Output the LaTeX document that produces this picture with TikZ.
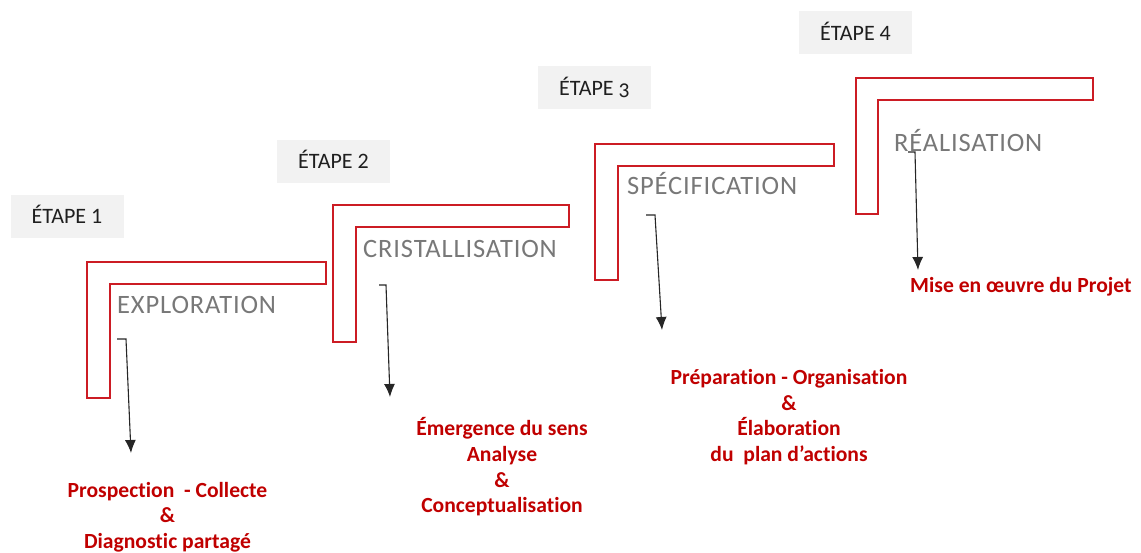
\documentclass[tikz,border=0pt]{standalone}
\usepackage{fontspec}
\setmainfont{Carlito}[Ligatures=CommonOff]
\newfontfamily\phasefont{Carlito}[LetterSpace=3.2,Ligatures=CommonOff]
\usetikzlibrary{arrows.meta}
\definecolor{stepred}{RGB}{204,28,36}
\definecolor{txtred}{RGB}{192,0,0}
\definecolor{lblgray}{RGB}{120,120,120}
\definecolor{boxgray}{RGB}{242,242,242}
\begin{document}
\begin{tikzpicture}[x=1pt,y=-1pt,
  etape/.style={fill=boxgray, minimum width=113pt, minimum height=43pt, inner sep=0pt,
    text height=15pt, text depth=0pt, font=\fontsize{22}{26}\selectfont, text=black!88},
  lshape/.style={draw=stepred, line width=1.4pt, line join=miter},
  phase/.style={font=\phasefont\fontsize{26.5}{30}\selectfont, text=lblgray, anchor=base west, inner sep=0pt},
  outcome/.style={font=\bfseries\fontsize{21.6}{25.7}\selectfont, text=txtred, align=center, inner sep=0pt},
  conn/.style={draw=black!85, line width=1.1pt, -{Latex[length=13pt,width=11pt]}}]
\useasboundingbox (0,0) rectangle (1141,553);

% step labels
\node (e1) [etape] at (67,216.5) {ÉTAPE 1};
\node (e2) [etape] at (333.5,161.5) {ÉTAPE 2};
\node (e3) [etape] at (594.5,88) {ÉTAPE {\addfontfeature{Numbers=OldStyle}3}};
\node (e4) [etape] at (855.5,33) {ÉTAPE 4};

% stairs
\draw[lshape] (87,262) -- (326,262) -- (326,284) -- (110,284) -- (110,398) -- (87,398) -- cycle;
\draw[lshape] (333,205) -- (569,205) -- (569,227) -- (356,227) -- (356,342) -- (333,342) -- cycle;
\draw[lshape] (595,144) -- (834,144) -- (834,166) -- (618,166) -- (618,280) -- (595,280) -- cycle;
\draw[lshape] (856,78) -- (1093,78) -- (1093,100) -- (878,100) -- (878,214) -- (856,214) -- cycle;

% phase names
\node (p1) [phase] at (117,314) {EXPLORATION};
\node (p2) [phase] at (363,258) {CRISTALLISATION};
\node (p3) [phase] at (627,195) {SPÉCIFICATION};
\node (p4) [phase] at (894,152) {RÉALISATION};

% outcomes
\node (r1) [outcome] at (167.5,517) {Prospection\ \ - Collecte\\\&\\Diagnostic partagé};
\node (r2) [outcome] at (502,467) {Émergence du sens\\Analyse\\\&\\Conceptualisation};
\node (r3) [outcome] at (789,417) {Préparation - Organisation\\\&\\Élaboration\\du\ \ plan d’actions};
\node (r4) [outcome, anchor=base west] at (910,293) {Mise en œuvre du Projet};

% connectors
\coordinate (a1s) at (117,339); \coordinate (a1c) at (126,339); \coordinate (a1e) at (131,453);
\coordinate (a2s) at (379,285); \coordinate (a2c) at (386,285); \coordinate (a2e) at (390,397);
\coordinate (a3s) at (646,215); \coordinate (a3c) at (655,215); \coordinate (a3e) at (662,330);
\coordinate (a4s) at (908,152); \coordinate (a4c) at (915,152); \coordinate (a4e) at (918,270);
\draw[conn] (a1s) -- (a1c) -- (a1e);
\draw[conn] (a2s) -- (a2c) -- (a2e);
\draw[conn] (a3s) -- (a3c) -- (a3e);
\draw[conn] (a4s) -- (a4c) -- (a4e);
\end{tikzpicture}
\end{document}
